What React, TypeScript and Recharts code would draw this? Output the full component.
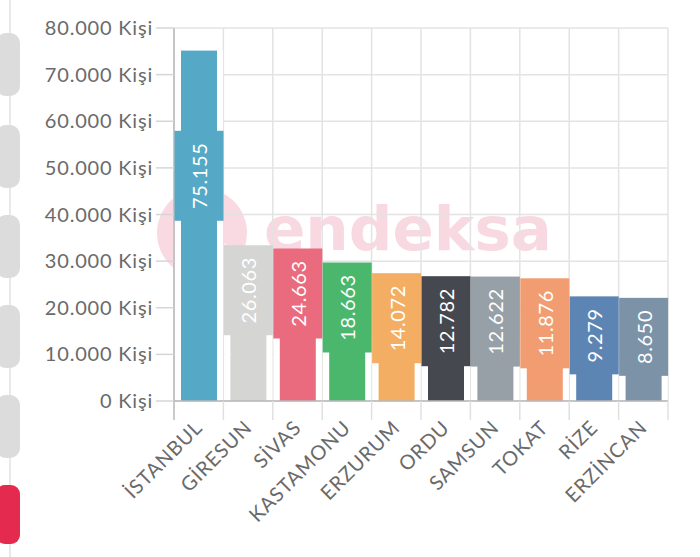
import React from 'react';
import { BarChart, Bar, XAxis, YAxis, CartesianGrid, Cell, LabelList } from 'recharts';

const cities = ['İSTANBUL', 'GİRESUN', 'SİVAS', 'KASTAMONU', 'ERZURUM', 'ORDU', 'SAMSUN', 'TOKAT', 'RİZE', 'ERZİNCAN'];
const people = [75155, 26063, 24663, 18663, 14072, 12782, 12622, 11876, 9279, 8650];
const barColors = ['#56a9c6', '#d5d5d3', '#ea6b7d', '#4bb76d', '#f3ae63', '#45484f', '#979fa7', '#f29d71', '#5d85b3', '#7c93a7'];
const yTicks = [0, 10000, 20000, 30000, 40000, 50000, 60000, 70000, 80000];

const data = cities.map((city, i) => ({ city, people: people[i] }));

const FONT = 'Lato, "Open Sans", sans-serif';
const W = 700;
const H = 557;
const PLOT_LEFT = 174;
const PLOT_RIGHT_MARGIN = 32;
const TICK_X = 19;

const fmt = (v: number) => String(v).replace(/\B(?=(\d{3})+(?!\d))/g, '.');

const PaddedBar = (props: any) => {
  const { x, y, width, height, index } = props;
  if (!(height > 0)) return null;
  return (
    <g>
      <rect x={x - 6} y={y} width={width + 12} height={Math.max(0, height - 1)} fill="#ffffff" />
      <rect x={x} y={y} width={width} height={height} fill={barColors[index]} />
    </g>
  );
};

const ValueBox = (props: any) => {
  const vb = props.viewBox || {};
  const x = props.x ?? vb.x;
  const y = props.y ?? vb.y;
  const width = props.width ?? vb.width;
  const height = props.height ?? vb.height;
  const { value, index } = props;
  const text = fmt(Number(value));
  const digits = text.replace(/\D/g, '').length;
  const boxH = digits * 12 + 5 + 25;
  const boxW = width + 13;
  const cx = x + width / 2;
  const bottom = y + height / 2 - 5;
  const top = bottom - boxH;
  const cy = top + boxH / 2;
  return (
    <g>
      <rect x={cx - boxW / 2} y={top} width={boxW} height={boxH} fill={barColors[index]} />
      <text
        x={cx}
        y={cy}
        transform={`rotate(-90, ${cx}, ${cy})`}
        textAnchor="middle"
        dominantBaseline="central"
        fill="#ffffff"
        fontSize={20}
        letterSpacing={0.6}
        fontFamily={FONT}
      >
        {text}
      </text>
    </g>
  );
};

const XTick = (props: any) => {
  const { x, y, payload, index } = props;
  const half = payload && payload.offset > 0 ? payload.offset : (W - PLOT_LEFT - PLOT_RIGHT_MARGIN) / cities.length / 2;
  const y0 = y - TICK_X;
  return (
    <g>
      <line x1={x - half} x2={x - half} y1={y0} y2={y} stroke={index === 0 ? '#b8b8b8' : '#e0e0e0'} strokeWidth={1.5} />
      {index === cities.length - 1 && (
        <line x1={x + half} x2={x + half} y1={y0} y2={y} stroke="#e0e0e0" strokeWidth={1.5} />
      )}
      <text
        transform={`translate(${x + 5},${y + 9}) rotate(-45)`}
        textAnchor="end"
        fill="#6a6a6a"
        fontSize={20}
        letterSpacing={0.8}
        fontFamily={FONT}
      >
        {payload.value}
      </text>
    </g>
  );
};

const Watermark = () => (
  <svg width={W} height={H} style={{ position: 'absolute', left: 0, top: 0 }}>
    <g opacity={0.2}>
      <circle cx={202} cy={233} r={45} fill="#e0406e" />
      <text x={264} y={250} fontSize={61} fontWeight={700} fontFamily='"DejaVu Sans", sans-serif' fill="#e0406e">
        endeksa
      </text>
    </g>
    <g opacity={0.4} stroke="#ffffff" strokeWidth={6} fill="none">
      <polyline points="182,226 202,212 222,226" />
      <line x1={178} x2={226} y1={246} y2={246} />
    </g>
  </svg>
);

const SideBar = () => {
  const pills = [33, 125, 215, 305, 395];
  return (
    <svg width={W} height={H} style={{ position: 'absolute', left: 0, top: 0, pointerEvents: 'none' }}>
      <line x1={10} x2={10} y1={0} y2={H} stroke="#e2e2e2" strokeWidth={1.5} />
      {pills.map((p) => (
        <rect key={p} x={-4} y={p} width={24} height={63} rx={10} fill="#dcdcdc" />
      ))}
      <rect x={-4} y={485} width={24} height={59} rx={9} fill="#e52a50" />
    </svg>
  );
};

export default function App() {
  return (
    <div style={{ position: 'absolute', left: 0, top: 0, width: W, height: H, background: '#ffffff' }}>
      <Watermark />
      <div style={{ position: 'absolute', left: 0, top: 0 }}>
        <BarChart
          width={W}
          height={H}
          data={data}
          margin={{ top: 28, right: PLOT_RIGHT_MARGIN, bottom: 0, left: 0 }}
        >
          <CartesianGrid
            stroke="#e3e3e3"
            strokeWidth={1.5}
            verticalCoordinatesGenerator={(p: any) => {
              const left = p?.offset?.left ?? PLOT_LEFT;
              const w = p?.offset?.width ?? W - PLOT_LEFT - PLOT_RIGHT_MARGIN;
              return cities.map((_, i) => left + (i * w) / cities.length).concat([left + w]);
            }}
          />
          <YAxis
            width={PLOT_LEFT}
            domain={[0, 80000]}
            ticks={yTicks}
            interval={0}
            tickFormatter={(v: number) => `${fmt(v)} Kişi`}
            tickSize={18}
            tickMargin={3}
            tickLine={{ stroke: '#d6d6d6', strokeWidth: 1.5 }}
            axisLine={{ stroke: '#b8b8b8', strokeWidth: 1.5 }}
            tick={{ fill: '#6a6a6a', fontSize: 20, fontFamily: FONT, letterSpacing: 0.8 }}
          />
          <XAxis
            dataKey="city"
            interval={0}
            height={H - 401}
            tickLine={false}
            tickSize={TICK_X}
            tickMargin={0}
            axisLine={{ stroke: '#b8b8b8', strokeWidth: 1.5 }}
            tick={<XTick />}
          />
          <Bar dataKey="people" barSize={36} isAnimationActive={false} shape={<PaddedBar />}>
            {data.map((d, i) => (
              <Cell key={d.city} fill={barColors[i]} />
            ))}
            <LabelList dataKey="people" content={<ValueBox />} />
          </Bar>
        </BarChart>
      </div>
      <SideBar />
    </div>
  );
}
